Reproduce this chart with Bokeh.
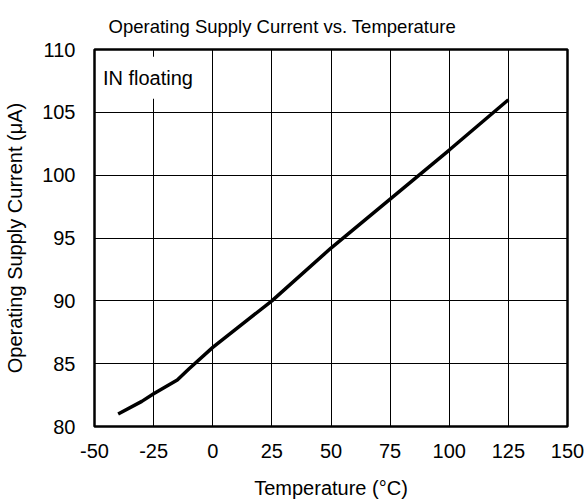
from bokeh.plotting import figure
from bokeh.models import Label, FixedTicker, Range1d
from bokeh.embed import file_html
from bokeh.resources import INLINE

# Data
temperature_c = [-40, -30, -25, -15, -10, 0, 25, 50, 75, 100, 125]
supply_current_ua = [81.0, 82.0, 82.6, 83.7, 84.6, 86.3, 90.0, 94.2, 98.1, 102.0, 106.0]
x_ticks = [-50, -25, 0, 25, 50, 75, 100, 125, 150]
y_ticks = [80, 85, 90, 95, 100, 105, 110]
title_text = "Operating Supply Current vs. Temperature"
note_text = "IN floating"

FONT = "Liberation Sans"

p = figure(width=585, height=503, output_backend="svg", toolbar_location=None,
           x_range=Range1d(-50, 150), y_range=Range1d(80, 110),
           min_border_left=94, min_border_right=18, min_border_top=47, min_border_bottom=77)

p.title.text = title_text
p.title.text_font = FONT
p.title.text_font_size = "18.5px"
p.title.text_font_style = "normal"
p.title.text_color = "black"
p.title.align = "left"
p.title.offset = 14
p.title.standoff = 26

p.line(temperature_c, supply_current_ua, line_color="black", line_width=3.5)

for ax in (p.xaxis[0], p.yaxis[0]):
    ax.major_label_text_font = FONT
    ax.major_label_text_font_size = "20px"
    ax.major_label_text_color = "black"
    ax.axis_label_text_font = FONT
    ax.axis_label_text_font_size = "20px"
    ax.axis_label_text_font_style = "normal"
    ax.axis_label_text_color = "black"
    ax.axis_line_color = None
    ax.major_tick_line_color = None
    ax.minor_tick_line_color = None
    ax.major_tick_out = 0
    ax.major_tick_in = 0

p.xaxis[0].ticker = FixedTicker(ticks=x_ticks)
p.yaxis[0].ticker = FixedTicker(ticks=y_ticks)
p.xaxis[0].major_label_overrides = {t: str(t) for t in x_ticks}
p.xaxis[0].axis_label = "Temperature (°C)"
p.yaxis[0].axis_label = "Operating Supply Current (μA)"
p.xaxis[0].major_label_standoff = 17
p.xaxis[0].axis_label_standoff = 16
p.yaxis[0].major_label_standoff = 19
p.yaxis[0].axis_label_standoff = 13

p.xgrid.grid_line_color = "black"
p.ygrid.grid_line_color = "black"
p.xgrid.grid_line_width = 1
p.ygrid.grid_line_width = 1

p.outline_line_color = "black"
p.outline_line_width = 2.5
p.outline_line_alpha = 1.0

p.background_fill_color = "white"
p.border_fill_color = "white"

# Condition note in the upper-left corner, with a white box behind it
note = Label(x=-47.3, y=109.42, text=note_text, text_font=FONT, text_font_size="20px",
             text_color="black", anchor="top_left", background_fill_color="white",
             padding=dict(left=2, right=2, top=10, bottom=10))
p.add_layout(note)

open("out.html", "w").write(file_html(p, INLINE))
